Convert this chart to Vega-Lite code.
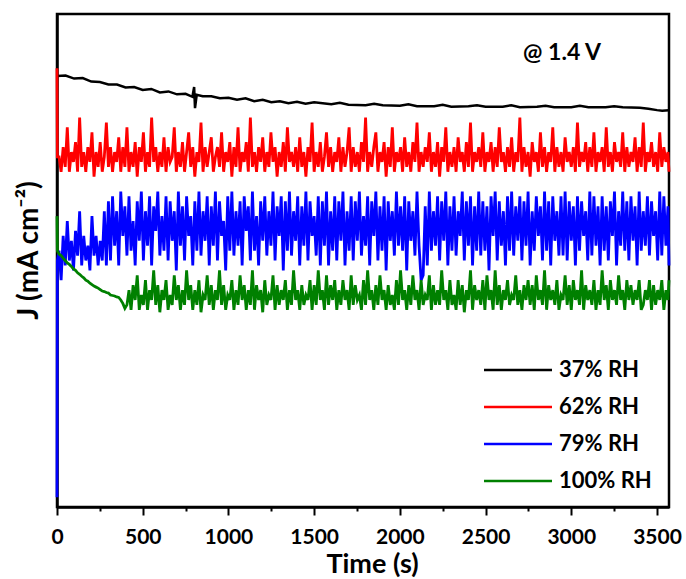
{
"$schema": "https://vega.github.io/schema/vega-lite/v6.json",
"width": 612, "height": 493,
"autosize": "none",
"padding": {"left": 57, "top": 14, "right": 17, "bottom": 72},
"config": {"font": "Lato", "view": {"stroke": "#000000", "strokeWidth": 2.5}},
"encoding": {
"x": {"field": "t", "type": "quantitative", "title": "Time (s)",
"scale": {"domain": [0, 3570], "nice": false, "zero": false},
"axis": {"values": [0,250,500,750,1000,1250,1500,1750,2000,2250,2500,2750,3000,3250,3500],
"labelExpr": "datum.value % 500 === 0 ? datum.label : ''",
"format": "d", "grid": false, "domainColor": "#000000", "domainWidth": 2.5,
"tickColor": "#000000", "tickWidth": 2, "labelFlush": false,
"tickSize": {"condition": {"test": "datum.value % 500 === 0", "value": 8}, "value": 4},
"labelFontSize": 21, "labelFontWeight": "bold", "labelColor": "#000000", "labelPadding": 11,
"titleFontSize": 27, "titleFontWeight": "bold", "titleColor": "#000000", "titlePadding": 4, "titleX": 315}},
"y": {"field": "j", "type": "quantitative", "title": "J (mA cm⁻²)",
"scale": {"domain": [0, 100], "nice": false},
"axis": {"labels": false, "ticks": false, "grid": false, "domainColor": "#000000", "domainWidth": 2.5,
"titleFontSize": 28, "titleFontWeight": "bold", "titleColor": "#000000", "titlePadding": 14, "titleY": 236}}
},
"layer": [
{
"data": {"values": [
{"t":0,"j":87.4},{"t":50,"j":87.5},{"t":100,"j":86.9},{"t":150,"j":87.0},{"t":200,"j":86.3},{"t":250,"j":86.2},
{"t":300,"j":85.7},{"t":350,"j":85.7},{"t":400,"j":85.1},{"t":450,"j":85.2},{"t":500,"j":84.6},{"t":550,"j":84.8},
{"t":600,"j":84.1},{"t":650,"j":84.3},{"t":700,"j":83.7},{"t":750,"j":83.8},{"t":790,"j":83.2},{"t":800,"j":85.2},
{"t":805,"j":80.9},{"t":815,"j":83.6},{"t":850,"j":83.3},{"t":900,"j":83.3},{"t":950,"j":82.9},{"t":1000,"j":83.0},
{"t":1050,"j":82.6},{"t":1100,"j":82.9},{"t":1150,"j":82.3},{"t":1200,"j":82.6},{"t":1250,"j":82.1},{"t":1300,"j":82.3},
{"t":1350,"j":81.9},{"t":1400,"j":82.2},{"t":1450,"j":81.8},{"t":1500,"j":82.1},{"t":1600,"j":81.7},{"t":1650,"j":82.0},
{"t":1700,"j":81.6},{"t":1800,"j":81.5},{"t":1850,"j":81.8},{"t":1900,"j":81.5},{"t":2000,"j":81.4},{"t":2050,"j":81.7},
{"t":2100,"j":81.3},{"t":2200,"j":81.3},{"t":2250,"j":81.6},{"t":2300,"j":81.2},{"t":2400,"j":81.3},{"t":2450,"j":81.5},
{"t":2500,"j":81.2},{"t":2600,"j":81.2},{"t":2650,"j":81.5},{"t":2700,"j":81.1},{"t":2800,"j":81.2},{"t":2850,"j":81.4},
{"t":2900,"j":81.1},{"t":3000,"j":81.1},{"t":3050,"j":81.4},{"t":3100,"j":81.1},{"t":3200,"j":81.1},{"t":3250,"j":81.3},
{"t":3300,"j":81.1},{"t":3400,"j":81.0},{"t":3450,"j":80.8},{"t":3500,"j":80.5},{"t":3530,"j":80.4},{"t":3570,"j":80.5}
]},
"mark": {"type": "line", "strokeWidth": 2.5},
"encoding": {
"color": {"datum": "a",
"scale": {"domain": ["a", "b", "c", "d"], "range": ["#000000", "#ff0000", "#0000ff", "#008000"]},
"legend": {"title": null, "orient": "none", "legendX": 450, "legendY": 345,
"labelExpr": "{'a':'37% RH','b':'62% RH','c':'79% RH','d':'100% RH'}[datum.label]",
"symbolType": "M-4,0H4", "symbolSize": 289, "symbolStrokeWidth": 2.5,
"labelFontSize": 22, "labelFontWeight": "bold", "labelColor": "#000000", "labelOffset": 30,
"rowPadding": 15}}
}
},
{
"data": {"values": [
{"t":0,"b":89,"c":2,"d":59},
{"t":2,"b":71,"c":50,"d":52},
{"t":12,"b":71,"c":52,"d":51.3},{"t":24,"b":68,"c":46,"d":51.0},{"t":36,"b":73,"c":55,"d":50.5},{"t":48,"b":69,"c":49,"d":50.0},{"t":60,"b":77,"c":58,"d":49.5},
{"t":72,"b":68,"c":50,"d":49.2},{"t":84,"b":72,"c":54,"d":48.8},{"t":96,"b":70,"c":48,"d":48.3},{"t":108,"b":74,"c":56,"d":48.0},{"t":120,"b":68,"c":51,"d":47.5},
{"t":132,"b":79,"c":60,"d":47.2},{"t":144,"b":69,"c":49,"d":46.8},{"t":156,"b":72,"c":55,"d":46.5},{"t":168,"b":68,"c":50,"d":46.0},{"t":180,"b":73,"c":53,"d":45.8},
{"t":192,"b":70,"c":48,"d":45.4},{"t":204,"b":76,"c":59,"d":45.1},{"t":216,"b":67,"c":51,"d":44.8},{"t":228,"b":72,"c":55,"d":44.6},{"t":240,"b":69,"c":49,"d":44.4},
{"t":252,"b":74,"c":54,"d":44.1},{"t":264,"b":68,"c":50,"d":43.8},{"t":276,"b":71,"c":60,"d":43.7},{"t":288,"b":78,"c":49,"d":43.5},{"t":300,"b":69,"c":62,"d":43.4},
{"t":312,"b":73,"c":50,"d":43.0},{"t":324,"b":68,"c":63,"d":42.9},{"t":336,"b":72,"c":53,"d":42.8},{"t":348,"b":70,"c":60,"d":42.6},{"t":360,"b":75,"c":49,"d":42.5},
{"t":372,"b":68,"c":64,"d":42.0},{"t":384,"b":73,"c":55,"d":41.3},{"t":396,"b":69,"c":61,"d":40.3},{"t":408,"b":77,"c":51,"d":41},{"t":420,"b":68,"c":63,"d":44},
{"t":432,"b":72,"c":52,"d":40},{"t":444,"b":69,"c":58,"d":45},{"t":456,"b":74,"c":49,"d":42},{"t":468,"b":67,"c":62,"d":47},{"t":480,"b":73,"c":54,"d":40},
{"t":492,"b":70,"c":64,"d":43},{"t":504,"b":76,"c":50,"d":41},{"t":516,"b":68,"c":60,"d":46},{"t":528,"b":72,"c":53,"d":40},{"t":540,"b":69,"c":63,"d":44},
{"t":552,"b":79,"c":49,"d":42},{"t":564,"b":70,"c":61,"d":48},{"t":576,"b":73,"c":56,"d":41},{"t":588,"b":68,"c":64,"d":45},{"t":600,"b":72,"c":51,"d":39.5},
{"t":612,"b":69,"c":59,"d":44},{"t":624,"b":75,"c":52,"d":42},{"t":636,"b":68,"c":63,"d":46},{"t":648,"b":73,"c":50,"d":40},{"t":660,"b":70,"c":62,"d":43},
{"t":672,"b":71,"c":54,"d":41},{"t":684,"b":77,"c":60,"d":47},{"t":696,"b":68,"c":48,"d":42},{"t":708,"b":72,"c":64,"d":45},{"t":720,"b":69,"c":53,"d":40},
{"t":732,"b":74,"c":61,"d":44},{"t":744,"b":68,"c":50,"d":41},{"t":756,"b":72,"c":63,"d":48},{"t":768,"b":76,"c":55,"d":42},{"t":780,"b":69,"c":59,"d":45},
{"t":792,"b":73,"c":49,"d":40},{"t":804,"b":67,"c":62,"d":44},{"t":816,"b":72,"c":52,"d":41},{"t":828,"b":70,"c":64,"d":46},{"t":840,"b":78,"c":51,"d":39.5},
{"t":852,"b":68,"c":60,"d":43},{"t":864,"b":73,"c":54,"d":42},{"t":876,"b":69,"c":63,"d":47},{"t":888,"b":72,"c":49,"d":41},{"t":900,"b":75,"c":61,"d":45},
{"t":912,"b":68,"c":53,"d":40},{"t":924,"b":71,"c":64,"d":44},{"t":936,"b":73,"c":50,"d":42},{"t":948,"b":69,"c":62,"d":48},{"t":960,"b":76,"c":55,"d":41},
{"t":972,"b":68,"c":58,"d":45},{"t":984,"b":72,"c":48,"d":40},{"t":996,"b":70,"c":63,"d":43},{"t":1008,"b":74,"c":52,"d":42},{"t":1020,"b":67,"c":64,"d":46},
{"t":1032,"b":73,"c":51,"d":40},{"t":1044,"b":69,"c":60,"d":44},{"t":1056,"b":77,"c":53,"d":41},{"t":1068,"b":68,"c":62,"d":47},{"t":1080,"b":72,"c":49,"d":42},
{"t":1092,"b":70,"c":63,"d":45},{"t":1104,"b":74,"c":56,"d":40},{"t":1116,"b":68,"c":61,"d":44},{"t":1128,"b":79,"c":50,"d":41},{"t":1140,"b":69,"c":64,"d":48},
{"t":1152,"b":72,"c":52,"d":40},{"t":1164,"b":68,"c":59,"d":45},{"t":1176,"b":73,"c":49,"d":42},{"t":1188,"b":70,"c":62,"d":44},{"t":1200,"b":75,"c":54,"d":39.5},
{"t":1212,"b":68,"c":63,"d":46},{"t":1224,"b":72,"c":51,"d":41},{"t":1236,"b":69,"c":60,"d":43},{"t":1248,"b":76,"c":53,"d":42},{"t":1260,"b":70,"c":64,"d":47},
{"t":1272,"b":73,"c":50,"d":40},{"t":1284,"b":67,"c":61,"d":45},{"t":1296,"b":72,"c":55,"d":41},{"t":1308,"b":69,"c":63,"d":44},{"t":1320,"b":74,"c":48,"d":42},
{"t":1332,"b":68,"c":62,"d":46},{"t":1344,"b":77,"c":52,"d":40},{"t":1356,"b":70,"c":64,"d":44},{"t":1368,"b":72,"c":51,"d":41},{"t":1380,"b":69,"c":60,"d":48},
{"t":1392,"b":73,"c":54,"d":42},{"t":1404,"b":68,"c":63,"d":44},{"t":1416,"b":75,"c":49,"d":40},{"t":1428,"b":69,"c":61,"d":45},{"t":1440,"b":72,"c":53,"d":41},
{"t":1452,"b":67,"c":64,"d":43},{"t":1464,"b":73,"c":50,"d":42},{"t":1476,"b":70,"c":62,"d":46},{"t":1488,"b":78,"c":55,"d":40},{"t":1500,"b":68,"c":59,"d":45},
{"t":1512,"b":72,"c":51,"d":41},{"t":1524,"b":69,"c":63,"d":48},{"t":1536,"b":74,"c":49,"d":42},{"t":1548,"b":68,"c":62,"d":44},{"t":1560,"b":71,"c":53,"d":40},
{"t":1572,"b":76,"c":64,"d":47},{"t":1584,"b":69,"c":49,"d":41},{"t":1596,"b":73,"c":60,"d":45},{"t":1608,"b":68,"c":52,"d":42},{"t":1620,"b":72,"c":63,"d":46},
{"t":1632,"b":70,"c":50,"d":40},{"t":1644,"b":75,"c":62,"d":44},{"t":1656,"b":68,"c":54,"d":41},{"t":1668,"b":73,"c":64,"d":46},{"t":1680,"b":69,"c":49,"d":42},
{"t":1692,"b":72,"c":60,"d":44},{"t":1704,"b":77,"c":52,"d":40},{"t":1716,"b":68,"c":63,"d":47},{"t":1728,"b":73,"c":50,"d":41},{"t":1740,"b":69,"c":62,"d":45},
{"t":1752,"b":72,"c":54,"d":42},{"t":1764,"b":68,"c":64,"d":43},{"t":1776,"b":74,"c":51,"d":40},{"t":1788,"b":70,"c":59,"d":46},{"t":1800,"b":79,"c":53,"d":41},
{"t":1812,"b":68,"c":63,"d":48},{"t":1824,"b":72,"c":49,"d":42},{"t":1836,"b":69,"c":62,"d":44},{"t":1848,"b":73,"c":55,"d":40},{"t":1860,"b":76,"c":64,"d":45},
{"t":1872,"b":68,"c":50,"d":41},{"t":1884,"b":72,"c":61,"d":47},{"t":1896,"b":70,"c":52,"d":42},{"t":1908,"b":74,"c":63,"d":44},{"t":1920,"b":67,"c":48,"d":40},
{"t":1932,"b":73,"c":62,"d":45},{"t":1944,"b":69,"c":54,"d":41},{"t":1956,"b":77,"c":60,"d":43},{"t":1968,"b":68,"c":51,"d":40},{"t":1980,"b":72,"c":64,"d":46},
{"t":1992,"b":70,"c":53,"d":41},{"t":2004,"b":73,"c":61,"d":48},{"t":2016,"b":68,"c":52,"d":42},{"t":2028,"b":75,"c":63,"d":44},{"t":2040,"b":69,"c":48,"d":40},
{"t":2052,"b":72,"c":62,"d":45},{"t":2064,"b":68,"c":54,"d":41},{"t":2076,"b":74,"c":60,"d":47},{"t":2088,"b":70,"c":51,"d":42},{"t":2100,"b":78,"c":64,"d":44},
{"t":2112,"b":68,"c":53,"d":40},{"t":2124,"b":72,"c":46,"d":46},{"t":2136,"b":69,"c":47,"d":41},{"t":2148,"b":73,"c":61,"d":43},{"t":2160,"b":70,"c":49,"d":42},
{"t":2172,"b":76,"c":64,"d":47},{"t":2184,"b":68,"c":52,"d":40},{"t":2196,"b":72,"c":60,"d":45},{"t":2208,"b":69,"c":53,"d":41},{"t":2220,"b":74,"c":63,"d":44},
{"t":2232,"b":67,"c":50,"d":41},{"t":2244,"b":73,"c":62,"d":48},{"t":2256,"b":70,"c":54,"d":42},{"t":2268,"b":77,"c":64,"d":44},{"t":2280,"b":68,"c":49,"d":40},
{"t":2292,"b":72,"c":61,"d":46},{"t":2304,"b":69,"c":52,"d":41},{"t":2316,"b":73,"c":63,"d":43},{"t":2328,"b":68,"c":51,"d":40},{"t":2340,"b":75,"c":60,"d":46},
{"t":2352,"b":70,"c":55,"d":41},{"t":2364,"b":72,"c":64,"d":45},{"t":2376,"b":68,"c":50,"d":39.5},{"t":2388,"b":74,"c":62,"d":44},{"t":2400,"b":69,"c":53,"d":42},
{"t":2412,"b":78,"c":63,"d":48},{"t":2424,"b":68,"c":49,"d":40},{"t":2436,"b":72,"c":61,"d":45},{"t":2448,"b":70,"c":52,"d":42},{"t":2460,"b":73,"c":64,"d":44},
{"t":2472,"b":69,"c":51,"d":41},{"t":2484,"b":76,"c":62,"d":46},{"t":2496,"b":68,"c":52,"d":40},{"t":2508,"b":72,"c":61,"d":47},{"t":2520,"b":70,"c":48,"d":42},
{"t":2532,"b":74,"c":63,"d":44},{"t":2544,"b":68,"c":55,"d":40},{"t":2556,"b":73,"c":64,"d":48},{"t":2568,"b":69,"c":50,"d":41},{"t":2580,"b":77,"c":62,"d":45},
{"t":2592,"b":70,"c":53,"d":40},{"t":2604,"b":72,"c":60,"d":44},{"t":2616,"b":68,"c":49,"d":42},{"t":2628,"b":73,"c":63,"d":46},{"t":2640,"b":69,"c":52,"d":41},
{"t":2652,"b":75,"c":64,"d":43},{"t":2664,"b":68,"c":51,"d":42},{"t":2676,"b":72,"c":61,"d":47},{"t":2688,"b":70,"c":54,"d":41},{"t":2700,"b":79,"c":63,"d":44},
{"t":2712,"b":68,"c":50,"d":40},{"t":2724,"b":73,"c":62,"d":45},{"t":2736,"b":69,"c":53,"d":42},{"t":2748,"b":72,"c":64,"d":46},{"t":2760,"b":67,"c":49,"d":41},
{"t":2772,"b":74,"c":60,"d":45},{"t":2784,"b":70,"c":52,"d":40},{"t":2796,"b":72,"c":63,"d":47},{"t":2808,"b":68,"c":55,"d":42},{"t":2820,"b":76,"c":61,"d":44},
{"t":2832,"b":69,"c":50,"d":41},{"t":2844,"b":73,"c":64,"d":48},{"t":2856,"b":68,"c":52,"d":40},{"t":2868,"b":72,"c":62,"d":45},{"t":2880,"b":70,"c":49,"d":42},
{"t":2892,"b":77,"c":63,"d":44},{"t":2904,"b":68,"c":54,"d":41},{"t":2916,"b":73,"c":60,"d":46},{"t":2928,"b":69,"c":51,"d":40},{"t":2940,"b":72,"c":63,"d":43},
{"t":2952,"b":68,"c":51,"d":42},{"t":2964,"b":75,"c":64,"d":47},{"t":2976,"b":70,"c":50,"d":41},{"t":2988,"b":72,"c":62,"d":45},{"t":3000,"b":69,"c":54,"d":40},
{"t":3012,"b":73,"c":61,"d":46},{"t":3024,"b":68,"c":49,"d":42},{"t":3036,"b":78,"c":63,"d":44},{"t":3048,"b":69,"c":52,"d":41},{"t":3060,"b":72,"c":62,"d":48},
{"t":3072,"b":70,"c":55,"d":40},{"t":3084,"b":74,"c":60,"d":45},{"t":3096,"b":68,"c":50,"d":42},{"t":3108,"b":73,"c":64,"d":44},{"t":3120,"b":69,"c":51,"d":41},
{"t":3132,"b":76,"c":63,"d":46},{"t":3144,"b":68,"c":53,"d":40},{"t":3156,"b":72,"c":61,"d":44},{"t":3168,"b":70,"c":49,"d":41},{"t":3180,"b":73,"c":63,"d":48},
{"t":3192,"b":68,"c":52,"d":42},{"t":3204,"b":77,"c":61,"d":45},{"t":3216,"b":69,"c":50,"d":40},{"t":3228,"b":72,"c":62,"d":46},{"t":3240,"b":68,"c":55,"d":42},
{"t":3252,"b":74,"c":64,"d":44},{"t":3264,"b":70,"c":49,"d":41},{"t":3276,"b":72,"c":60,"d":47},{"t":3288,"b":69,"c":53,"d":42},{"t":3300,"b":76,"c":64,"d":44},
{"t":3312,"b":68,"c":52,"d":40},{"t":3324,"b":73,"c":62,"d":46},{"t":3336,"b":69,"c":50,"d":42},{"t":3348,"b":72,"c":63,"d":45},{"t":3360,"b":70,"c":54,"d":41},
{"t":3372,"b":75,"c":61,"d":44},{"t":3384,"b":68,"c":49,"d":42},{"t":3396,"b":73,"c":64,"d":46},{"t":3408,"b":69,"c":52,"d":40},{"t":3420,"b":78,"c":60,"d":41},
{"t":3432,"b":68,"c":53,"d":44},{"t":3444,"b":72,"c":63,"d":42},{"t":3456,"b":70,"c":51,"d":46},{"t":3468,"b":74,"c":62,"d":40},{"t":3480,"b":69,"c":55,"d":45},
{"t":3492,"b":72,"c":60,"d":41},{"t":3504,"b":68,"c":50,"d":44},{"t":3516,"b":76,"c":64,"d":42},{"t":3528,"b":69,"c":51,"d":46},{"t":3540,"b":73,"c":63,"d":40},
{"t":3552,"b":70,"c":53,"d":44},{"t":3564,"b":72,"c":61,"d":42},{"t":3570,"b":68,"c":49,"d":46}
]},
"transform": [{"fold": ["b", "c", "d"], "as": ["s", "j"]}],
"mark": {"type": "line", "strokeWidth": 2.8},
"encoding": {
"color": {"field": "s", "type": "nominal",
"scale": {"domain": ["a", "b", "c", "d"], "range": ["#000000", "#ff0000", "#0000ff", "#008000"]},
"legend": {"title": null, "orient": "none", "legendX": 450, "legendY": 345,
"labelExpr": "{'a':'37% RH','b':'62% RH','c':'79% RH','d':'100% RH'}[datum.label]",
"symbolType": "M-4,0H4", "symbolSize": 289, "symbolStrokeWidth": 2.5,
"labelFontSize": 22, "labelFontWeight": "bold", "labelColor": "#000000", "labelOffset": 30,
"rowPadding": 15}}
}
},
{
"data": {"values": [{"t": 2946, "j": 92.1, "label": "@ 1.4 V"}]},
"mark": {"type": "text", "fontSize": 23, "fontWeight": "bold", "color": "#000000"},
"encoding": {"text": {"field": "label"}}
}
]
}
